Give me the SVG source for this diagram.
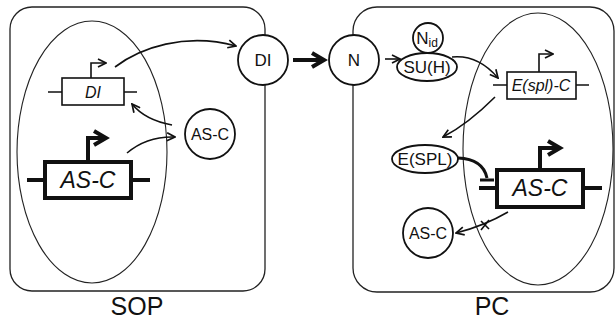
<svg xmlns="http://www.w3.org/2000/svg" width="616" height="320" viewBox="0 0 616 320">
<style>
text{font-family:"Liberation Sans",Arial,sans-serif;fill:#111;text-anchor:middle}
.cell{fill:none;stroke:#222;stroke-width:1.3}
.nuc{fill:none;stroke:#222;stroke-width:1.1}
.mol{fill:#fff;stroke:#111;stroke-width:1.8}
.gene{fill:#fff;stroke:#111;stroke-width:1.6}
.bgene{fill:#fff;stroke:#111;stroke-width:4}
.ln{fill:none;stroke:#111;stroke-width:1.6}
.bln{fill:none;stroke:#111;stroke-width:4}
.it{font-style:italic}
</style>
<defs>
<marker id="ah" viewBox="0 0 10 10" refX="9" refY="5" markerWidth="10" markerHeight="10" markerUnits="userSpaceOnUse" orient="auto">
<path d="M1,1 L9,5 L1,9" fill="none" stroke="#111" stroke-width="1.7"/>
</marker>
<marker id="bh" viewBox="0 0 20 20" refX="16" refY="10" markerWidth="20" markerHeight="20" markerUnits="userSpaceOnUse" orient="auto">
<path d="M4,3 L16,10 L4,17" fill="none" stroke="#111" stroke-width="4"/>
</marker>
</defs>

<g id="sop-cell">
<rect class="cell" x="10" y="7" width="255" height="284" rx="22"/>
<ellipse class="nuc" cx="92" cy="152" rx="75" ry="131"/>
<text x="137" y="315" font-size="25">SOP</text>
</g>
<g id="pc-cell">
<rect class="cell" x="353" y="7" width="261" height="285" rx="24"/>
<ellipse class="nuc" cx="538" cy="149" rx="75" ry="136"/>
<text x="492" y="315" font-size="25">PC</text>
</g>

<g id="connectors">
<path class="ln" d="M115,67 C140,48 185,32 236,46" marker-end="url(#ah)"/>
<path class="ln" d="M172,125 Q145,120 132,104" marker-end="url(#ah)"/>
<path class="ln" d="M127,153 Q147,136 175,137" marker-end="url(#ah)"/>
<path class="bln" d="M293,60 L324,60" marker-end="url(#bh)"/>
<path class="ln" d="M385,59 L400,59" marker-end="url(#ah)"/>
<path class="ln" d="M452,57 C472,55 487,65 498,78" marker-end="url(#ah)"/>
<path class="ln" d="M495,97 Q468,124 443,137" marker-end="url(#ah)"/>
<path fill="none" stroke="#111" stroke-width="3" d="M458,158 Q483,159 487,178"/>
<line x1="480" y1="180" x2="494" y2="180" stroke="#111" stroke-width="3"/>
<path class="ln" d="M508,212 Q484,226 456,233" marker-end="url(#ah)"/>
<path class="ln" d="M481,221 L489,229 M489,220 L481,230"/>
</g>

<g id="gene-dl">
<path class="ln" d="M48,92 H62 M124,92 H137"/>
<rect class="gene" x="62" y="78" width="62" height="27"/>
<path class="ln" d="M91,78 V63 H106" marker-end="url(#ah)"/>
<text class="it" x="93" y="98" font-size="16">DI</text>
</g>
<g id="gene-asc-sop">
<path class="bln" d="M27,180 H45 M131,180 H150"/>
<rect class="bgene" x="45" y="162" width="86" height="36"/>
<path class="bln" d="M88,162 V138 H106" marker-end="url(#bh)"/>
<text class="it" x="88" y="188" font-size="23">AS-C</text>
</g>
<g id="asc-protein-sop">
<circle class="mol" cx="210" cy="134" r="25"/>
<text x="210" y="140" font-size="16">AS-C</text>
</g>
<g id="dl-protein">
<circle class="mol" cx="263" cy="60" r="25"/>
<text x="263" y="66" font-size="17">DI</text>
</g>
<g id="n-protein">
<circle class="mol" cx="354" cy="60" r="25"/>
<text x="354" y="66" font-size="17">N</text>
</g>
<g id="nid">
<circle class="mol" cx="428" cy="38" r="15"/>
<text x="427" y="44" font-size="17">N<tspan font-size="12" dy="3">id</tspan></text>
</g>
<g id="suh">
<ellipse class="mol" cx="427" cy="67" rx="30" ry="14"/>
<text x="427" y="73" font-size="17">SU(H)</text>
</g>
<g id="gene-espl">
<path class="ln" d="M493,85 H507 M576,85 H589"/>
<rect class="gene" x="507" y="72" width="69" height="27"/>
<path class="ln" d="M539,72 V54 H553" marker-end="url(#ah)"/>
<text class="it" x="541" y="91" font-size="16">E(spl)-C</text>
</g>
<g id="espl-protein">
<ellipse class="mol" cx="425" cy="159" rx="33" ry="14"/>
<text x="425" y="165" font-size="17">E(SPL)</text>
</g>
<g id="gene-asc-pc">
<path class="bln" d="M479,188 H497 M583,188 H602"/>
<rect class="bgene" x="497" y="170" width="86" height="37"/>
<path class="bln" d="M540,170 V148 H560" marker-end="url(#bh)"/>
<text class="it" x="540" y="196" font-size="23">AS-C</text>
</g>
<g id="asc-protein-pc">
<circle class="mol" cx="428" cy="233" r="25"/>
<text x="428" y="239" font-size="16">AS-C</text>
</g>
</svg>
